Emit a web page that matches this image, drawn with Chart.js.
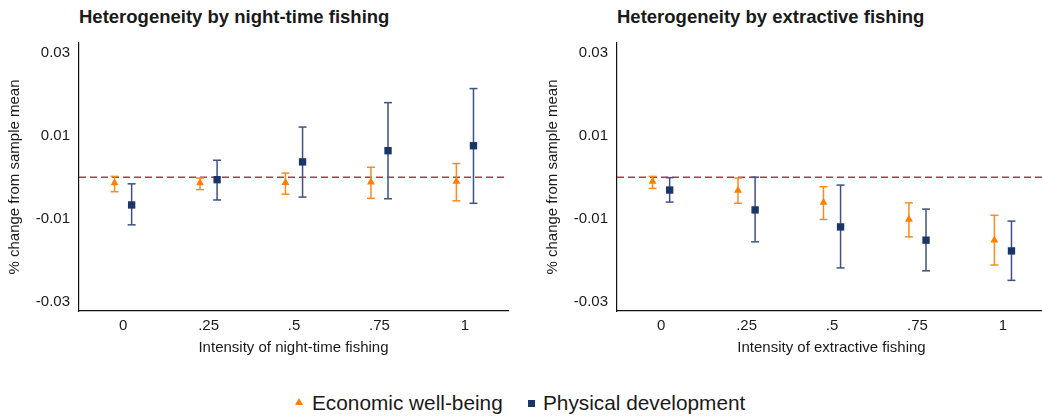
<!DOCTYPE html>
<html>
<head>
<meta charset="utf-8">
<script src="https://cdn.jsdelivr.net/npm/chart.js@4.4.1/dist/chart.umd.min.js"></script>
<style>
  html, body { margin: 0; padding: 0; background: #fff; }
  body { width: 1042px; height: 416px; position: relative; overflow: hidden;
         font-family: "Liberation Sans", Arial, Helvetica, sans-serif; color: #1a1a1a; }
  .panel { position: absolute; top: 0; }
  .title { position: absolute; top: 8px; font-weight: bold; font-size: 18.5px; line-height: 1; white-space: nowrap; }
  .legend { position: absolute; top: 393px; left: 0; width: 1042px; font-size: 20.8px; line-height: 1; }
  .legend span { position: absolute; white-space: nowrap; }
  .tri { width: 0; height: 0; border-left: 4px solid transparent; border-right: 4px solid transparent;
         border-bottom: 7px solid #ff8000; }
  .sq { width: 7px; height: 7px; background: #1a3668; }
</style>
</head>
<body>
<div class="title" style="left:79px">Heterogeneity by night-time fishing</div>
<div class="title" style="left:617px">Heterogeneity by extractive fishing</div>
<canvas id="night" class="panel" style="left:0px" width="520" height="360"></canvas>
<canvas id="extr" class="panel" style="left:538px" width="520" height="360"></canvas>
<div class="legend">
  <span class="tri" style="left:295px; top:5px"></span>
  <span style="left:312px; top:0">Economic well-being</span>
  <span class="sq" style="left:528px; top:7px"></span>
  <span style="left:543px; top:0">Physical development</span>
</div>
<script>
// ── 数据 ──────────────────────
const xCats = [0, 0.25, 0.5, 0.75, 1];
const xLabels = ['0', '.25', '.5', '.75', '1'];
const yTicks = [0.03, 0.01, -0.01, -0.03];
const yLabels = ['0.03', '0.01', '-0.01', '-0.03'];
const xMin = -0.129, xMax = 1.126;
const yMin = -0.0323, yMax = 0.0324;

// night-time fishing
const nightEcon   = [-0.0014, -0.0014, -0.0013, -0.0012, -0.0010];
const nightEconLo = [-0.0035, -0.0030, -0.0041, -0.0051, -0.0057];
const nightEconHi = [ 0.0002, -0.0002,  0.0010,  0.0024,  0.0033];
const nightPhys   = [-0.0067, -0.0006,  0.0037,  0.0064,  0.0076];
const nightPhysLo = [-0.0115, -0.0055, -0.0048, -0.0052, -0.0063];
const nightPhysHi = [-0.0016,  0.0041,  0.0121,  0.0180,  0.0214];

// extractive fishing
const extrEcon   = [-0.0010, -0.0032, -0.0061, -0.0102, -0.0152];
const extrEconLo = [-0.0027, -0.0063, -0.0102, -0.0144, -0.0212];
const extrEconHi = [ 0.0002, -0.0002, -0.0023, -0.0062, -0.0092];
const extrPhys   = [-0.0031, -0.0079, -0.0120, -0.0152, -0.0178];
const extrPhysLo = [-0.0060, -0.0156, -0.0219, -0.0226, -0.0249];
const extrPhysHi = [-0.0001,  0.0000, -0.0019, -0.0077, -0.0106];

const ORANGE = '#ff8000', ORANGE_BAR = '#ff8a1a';
const NAVY = '#1a3668', NAVY_BAR = '#3d5283';
const OFF = 0.025;
const FONT = { family: '"Liberation Sans", Arial, Helvetica, sans-serif', size: 15 };

// 误差线：每个区间一条竖线，两端用 'line' 点样式做横帽
function errBars(lo, hi, off, color) {
    return xCats.map((x, i) => ({
        data: [{ x: x + off, y: lo[i] }, { x: x + off, y: hi[i] }],
        showLine: true,
        borderColor: color,
        borderWidth: 1.5,
        pointStyle: 'line',
        pointRadius: 4,
        pointBorderWidth: 1.5,
        pointBorderColor: color,
        order: 2,
    }));
}

function markers(vals, off, style, radius, color) {
    return {
        data: xCats.map((x, i) => ({ x: x + off, y: vals[i] })),
        pointStyle: style,
        pointRadius: radius,
        pointBackgroundColor: color,
        pointBorderWidth: 0,
        order: 1,
    };
}

function makePanel(id, xTitle, econ, econLo, econHi, phys, physLo, physHi) {
    const zeroLine = {
        data: [{ x: xMin, y: 0 }, { x: xMax, y: 0 }],
        showLine: true,
        borderColor: '#b03a48',
        borderWidth: 1.5,
        borderDash: [7, 4],
        pointRadius: 0,
        order: 3,
    };
    const datasets = [zeroLine]
        .concat(errBars(econLo, econHi, -OFF, ORANGE_BAR))
        .concat(errBars(physLo, physHi, OFF, NAVY_BAR))
        .concat([markers(econ, -OFF, 'triangle', 4.6, ORANGE), markers(phys, OFF, 'rect', 5.2, NAVY)]);

    return new Chart(document.getElementById(id).getContext('2d'), {
        type: 'scatter',
        data: { datasets },
        options: {
            responsive: false,
            animation: false,
            devicePixelRatio: 1,
            layout: { padding: { top: 43, right: 12, bottom: 0, left: 0 } },
            plugins: { legend: { display: false }, tooltip: { enabled: false } },
            scales: {
                x: {
                    type: 'linear', min: xMin, max: xMax,
                    grid: { display: false, drawTicks: false },
                    border: { display: true, color: '#111', width: 1.2 },
                    afterBuildTicks: s => { s.ticks = xCats.map(v => ({ value: v })); },
                    afterFit: s => { s.height = 49; },
                    ticks: {
                        autoSkip: false, maxRotation: 0, padding: 6, color: '#1a1a1a', font: FONT,
                        callback: v => xLabels[xCats.indexOf(v)],
                    },
                    title: { display: true, text: xTitle, color: '#1a1a1a', font: FONT, padding: { top: 0, bottom: 3 } },
                },
                y: {
                    type: 'linear', min: yMin, max: yMax,
                    grid: { display: false, drawTicks: false },
                    border: { display: true, color: '#111', width: 1.2 },
                    afterBuildTicks: s => { s.ticks = yTicks.map(v => ({ value: v })); },
                    afterFit: s => { s.width = 79; },
                    ticks: {
                        autoSkip: false, padding: 9, color: '#1a1a1a', font: FONT,
                        callback: v => yLabels[yTicks.indexOf(v)],
                    },
                    title: { display: true, text: '% change from sample mean', color: '#1a1a1a', font: FONT, padding: { top: 6, bottom: 0 } },
                },
            },
        },
    });
}

makePanel('night', 'Intensity of night-time fishing',
    nightEcon, nightEconLo, nightEconHi, nightPhys, nightPhysLo, nightPhysHi);
makePanel('extr', 'Intensity of extractive fishing',
    extrEcon, extrEconLo, extrEconHi, extrPhys, extrPhysLo, extrPhysHi);
</script>
</body>
</html>
